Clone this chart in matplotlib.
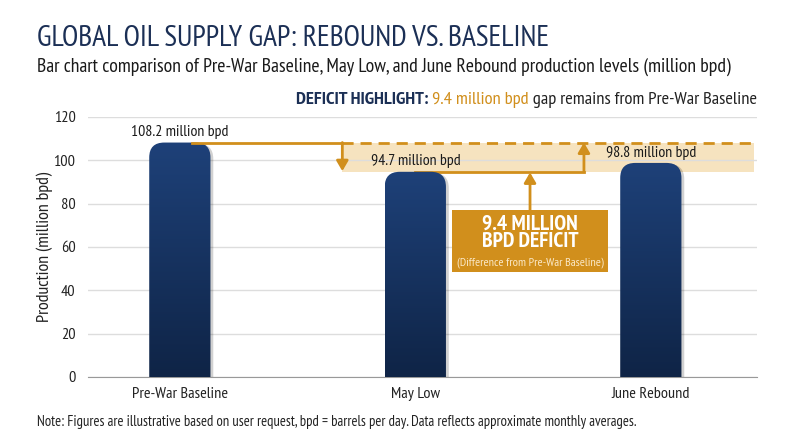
import numpy as np
import matplotlib.pyplot as plt
from matplotlib.patches import FancyBboxPatch, Rectangle
from matplotlib.colors import LinearSegmentedColormap

plt.rcParams['font.family'] = ['PT Sans Narrow', 'DejaVu Sans']

# Data
categories = ['Pre-War Baseline', 'May Low', 'June Rebound']
production = [108.2, 94.7, 98.8]
value_labels = ['108.2 million bpd', '94.7 million bpd', '98.8 million bpd']
deficit = 9.4
y_ticks = [0, 20, 40, 60, 80, 100, 120]

NAVY = '#1b2f55'
GOLD = '#d18f1c'
BAND = '#f6e3bf'

fig = plt.figure(figsize=(8, 4.47), dpi=100)
ax = fig.add_axes([0.11, 0.1566, 0.836, 0.5817])

x = np.arange(len(categories))
ax.set_xlim(-0.39, 2.45)
ax.set_ylim(0, 120)

# rounded gradient bars
w = 0.26
r = 0.064
aspect = 108
cmap = LinearSegmentedColormap.from_list('navy', ['#0f2446', '#1e4179'])
for xi, v, lab in zip(x, production, value_labels):
    shadow = FancyBboxPatch((xi - w / 2 + 0.012, -r * aspect), w, v + r * aspect - 0.6,
                            boxstyle=f'round,pad=0,rounding_size={r}', mutation_aspect=aspect,
                            fc='#000000', ec='none', alpha=0.18, zorder=2)
    ax.add_patch(shadow)
    patch = FancyBboxPatch((xi - w / 2, -r * aspect), w, v + r * aspect,
                           boxstyle=f'round,pad=0,rounding_size={r}', mutation_aspect=aspect,
                           fc='none', ec='none', zorder=3)
    ax.add_patch(patch)
    grad = np.linspace(0, 1, 256).reshape(-1, 1)
    im = ax.imshow(grad, extent=(xi - w / 2, xi + w / 2, 0, v), origin='lower',
                   cmap=cmap, aspect='auto', zorder=3)
    im.set_clip_path(patch)
    ax.text(xi, v + 4.8, lab, ha='center', va='center',
            fontsize=11.4, color='#1a1a1a', zorder=6)

# highlight band between baseline and May low
band_x0 = 0.69
ax.add_patch(Rectangle((band_x0, production[1]), 2.44 - band_x0, production[0] - production[1],
                       fc=BAND, ec='none', zorder=0.2))

# baseline reference line
ax.plot([x[0] + 0.05, band_x0], [production[0]] * 2, color=GOLD, lw=2, zorder=4)
ax.plot([band_x0, 2.44], [production[0]] * 2, color=GOLD, lw=2, ls=(0, (4, 2.5)), zorder=4)

# drop arrow to May low
ax.annotate('', xy=(band_x0, production[1] + 0.3), xytext=(band_x0, production[0]),
            arrowprops=dict(arrowstyle='-|>,head_width=0.35,head_length=0.6', color=GOLD, lw=2,
                            shrinkA=0, shrinkB=0), zorder=5)

# May low line and rebound arrow
up_x = 1.716
ax.plot([x[1], up_x], [production[1]] * 2, color=GOLD, lw=2, zorder=2.5)
ax.annotate('', xy=(up_x, production[0]), xytext=(up_x, production[1]),
            arrowprops=dict(arrowstyle='-|>,head_width=0.35,head_length=0.6', color=GOLD, lw=2,
                            shrinkA=0, shrinkB=0), zorder=5)

# deficit callout box
box_x0, box_x1 = 1.155, 1.819
box_y0, box_y1 = 48.5, 77.1
ax.add_patch(Rectangle((box_x0, box_y0), box_x1 - box_x0, box_y1 - box_y0,
                       fc=GOLD, ec='none', zorder=5))
box_cx = (box_x0 + box_x1) / 2
ax.annotate('', xy=(box_cx, production[1] - 0.3), xytext=(box_cx, box_y1),
            arrowprops=dict(arrowstyle='-|>,head_width=0.35,head_length=0.6', color=GOLD, lw=2,
                            shrinkA=0, shrinkB=0), zorder=5)
ax.text(box_cx, 66.5, f'{deficit} MILLION\nBPD DEFICIT', ha='center', va='center',
        fontsize=15.5, fontweight='bold', color='white', linespacing=0.9, zorder=6)
ax.text(box_cx, 53.0, '(Difference from Pre-War Baseline)', ha='center', va='center',
        fontsize=8.7, color='#fbe9c8', zorder=6)

# axes styling
ax.set_yticks(y_ticks)
ax.set_xticks(x)
ax.set_xticklabels(categories)
ax.tick_params(axis='both', length=0, labelsize=11.7, colors='#222222')
ax.tick_params(axis='y', pad=9)
ax.tick_params(axis='x', pad=7)
ax.grid(axis='y', color='#dddddd', lw=1)
ax.set_axisbelow(True)
for s in ['top', 'right', 'left']:
    ax.spines[s].set_visible(False)
ax.spines['bottom'].set_color('#999999')
ax.set_ylabel('Production (million bpd)', fontsize=13, color='#222222')
ax.yaxis.set_label_coords(-0.052, 0.5)

# titles
fig.text(0.046, 0.913, 'GLOBAL OIL SUPPLY GAP: REBOUND VS. BASELINE', fontsize=21.3,
         color=NAVY, va='center')
fig.text(0.046, 0.85, 'Bar chart comparison of Pre-War Baseline, May Low, and June Rebound '
         'production levels (million bpd)', fontsize=14.2, color='#1a1a1a', va='center')

# highlight line, right aligned, built from right to left
t3 = fig.text(0.946, 0.776, ' gap remains from Pre-War Baseline', fontsize=13.3,
              color='#222222', ha='right', va='center')
t2 = ax.annotate(f'{deficit} million bpd', xy=(0, 0.5), xycoords=t3, fontsize=13.3,
                 color=GOLD, ha='right', va='center', annotation_clip=False)
t1 = ax.annotate('DEFICIT HIGHLIGHT: ', xy=(0, 0.5), xycoords=t2, fontsize=13.3,
                 fontweight='bold', color=NAVY, ha='right', va='center', annotation_clip=False)

fig.text(0.046, 0.056, 'Note: Figures are illustrative based on user request, bpd = barrels per day. '
         'Data reflects approximate monthly averages.', fontsize=10.5, color='#222222', va='center')

fig.savefig('out.png', dpi=100)
